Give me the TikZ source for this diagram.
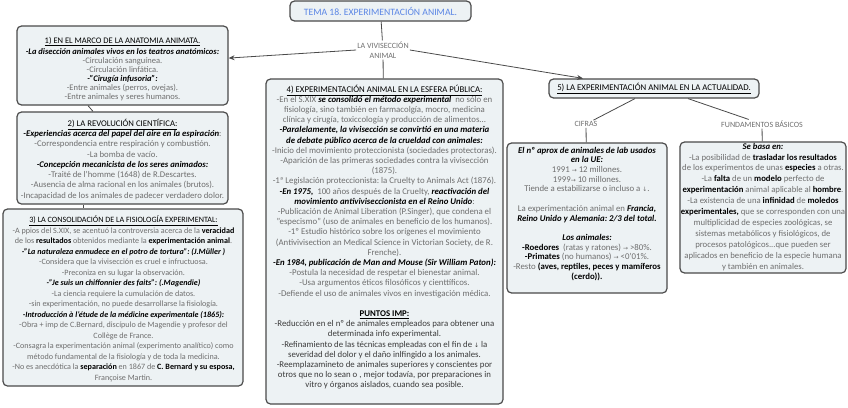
\documentclass[tikz,border=0pt]{standalone}
\usepackage{fontspec}
\setmainfont{Carlito}
\newfontfamily\symfont{DejaVu Sans}
\usetikzlibrary{arrows.meta,calc}
\frenchspacing
\definecolor{boxfill}{HTML}{EDF2F4}
\definecolor{boxline}{HTML}{4A4A4A}
\definecolor{txtgray}{HTML}{6E6E6E}
\definecolor{txtdark}{HTML}{3A3A3A}
\definecolor{titleblue}{HTML}{5B86E5}
\newcommand{\myul}[1]{\underline{#1}}
\newcommand{\myB}[1]{{\color{black}\bfseries #1}}
\newcommand{\myBI}[1]{{\color{black}\bfseries\itshape #1}}
\newcommand{\myHd}[1]{{\color{black}\myul{#1}}}
\newcommand{\myra}{{\symfont\fontsize{6}{6}\selectfont →}}
\newcommand{\myda}{{\symfont\fontsize{6}{6}\selectfont ↓}}
\newcommand{\fst}{\rule{0pt}{1em}}
\newcommand{\fs}[2]{\fontsize{#1}{#2}\selectfont}
\tikzset{
  box/.style={draw=boxline, fill=boxfill, rounded corners=4.5pt, line width=1.2pt,
    inner sep=0pt},
  txt/.style={anchor=north, inner sep=0pt, align=center, text=txtgray},
  lbl/.style={text=txtgray, align=center, inner sep=1pt, font=\fs{8}{10}},
  conn/.style={draw=boxline, line width=0.8pt},
  arr/.style={conn, -{Stealth[length=6pt,width=5pt]}}
}
\begin{document}
\begin{tikzpicture}[x=1pt,y=-1pt]
\useasboundingbox (0,0) rectangle (848,407);
% title
\node[box, text=titleblue, font=\fs{9.7}{11}, minimum width=181pt, minimum height=20pt] (title) at (380.5,11) {TEMA 18. EXPERIMENTACIÓN ANIMAL.};
\node[lbl] (viv) at (383,50) {LA VIVISECCIÓN\\ANIMAL};
% box frames
\node[box, minimum width=211pt, minimum height=79pt] (b1) at (122.5,65.5) {};
\node[box, minimum width=211pt, minimum height=92pt] (b2) at (122.5,158) {};
\node[box, minimum width=240pt, minimum height=177pt] (b3) at (123,297.5) {};
\node[box, minimum width=237pt, minimum height=325pt] (b4) at (384.5,241.5) {};
\node[box, minimum width=210pt, minimum height=19pt, font=\fs{8.8}{10}] (b5) at (654,88.5) {\myHd{5) LA EXPERIMENTACIÓN ANIMAL EN LA ACTUALIDAD.}};
\node[box, minimum width=160pt, minimum height=150pt] (b6) at (587,218) {};
\node[box, minimum width=166pt, minimum height=131pt] (b7) at (763,207.5) {};
\node[lbl] (cif) at (586,124) {CIFRAS};
\node[lbl] (fun) at (762,124) {FUNDAMENTOS BÁSICOS};
% box 1 text
\node[txt, font=\fs{8.5}{8.9}] (b1t) at (122.5,34.3) {%
\fst\myHd{1) EN EL MARCO DE LA ANATOMIA ANIMATA.}\\[1.6pt]
\myBI{-La disección animales vivos en los teatros anatómicos:}\\
-Circulación sanguínea.\\
-Circulación linfática.\\
\myBI{-''Cirugía infusoria'':}\\
-Entre animales (perros, ovejas).\\
-Entre animales y seres humanos.};
% box 2 text
\node[txt, font=\fs{8.7}{10.3}] (b2t) at (122.5,117.2) {%
\fst\myHd{2) LA REVOLUCIÓN CIENTÍFICA:}\\
\myBI{-Experiencias acerca del papel del aire en la espiración}:\\
-Correspondencia entre respiración y combustión.\\
-La bomba de vacío.\\
\myBI{-Concepción mecanicista de los seres animados:}\\
-Traité de l'homme (1648) de R.Descartes.\\
-Ausencia de alma racional en los animales (brutos).\\
-Incapacidad de los animales de padecer verdadero dolor.};
% box 3 text
\node[txt, font=\fs{8.1}{10.5}] (b3t) at (123.5,214.6) {%
\fst\myHd{3) LA CONSOLIDACIÓN DE LA FISIOLOGÍA EXPERIMENTAL:}\\
-A ppios del S.XIX, se acentuó la controversia acerca de la \myB{veracidad}\\
de los \myB{resultados} obtenidos mediante la \myB{experimentación animal}.\\
\myBI{-''La naturaleza enmudece en el potro de tortura'': (J.Müller )}\\
-Considera que la vivisección es cruel e infructuosa.\\
-Preconiza en su lugar la observación.\\
\myBI{-''Je suis un chiffonnier des faits'': (.Magendie)}\\
-La ciencia requiere la cumulación de datos.\\
-sin experimentación, no puede desarrollarse la fisiología.\\
\myBI{-Introducción à l'étude de la médicine experimentale (1865):}\\
-Obra + imp de C.Bernard, discípulo de Magendie y profesor del\\
Collège de France.\\
-Consagra la experimentación animal (experimento analítico) como\\
método fundamental de la fisiología y de toda la medicina.\\
-No es anecdótica la \myB{separación} en 1867 de \myB{C. Bernard y su esposa,}\\
Françoise Martin.};
% box 4 text
\node[txt, font=\fs{8.8}{10.2}] (b4t) at (384.5,83.1) {%
\fst\myHd{4) EXPERIMENTACIÓN ANIMAL EN LA ESFERA PÚBLICA:}\\
-En el S.XIX \myBI{se consolidó el método experimental}\ \ no sólo en\\
fisiología, sino también en farmacolgía, mocro, medicina\\
clínica y cirugía, toxiccología y producción de alimentos...\\
\myBI{-Paralelamente, la vivisección se convirtió en una materia}\\
\myBI{de debate público acerca de la crueldad con animales:}\\
-Inicio del movimiento proteccionista (sociedades protectoras).\\
-Aparición de las primeras sociedades contra la vivisección\\
(1875).\\
-1ª Legislación proteccionista: la Cruelty to Animals Act (1876).\\
\myBI{-En 1975,}\ \ 100 años después de la Cruelty, \myBI{reactivación del}\\
\myBI{movimiento antiviviseccionista en el Reino Unido}:\\
-Publicación de Animal Liberation (P.Singer), que condena el\\
''especismo'' (uso de animales en beneficio de los humanos).\\
-1º Estudio histórico sobre los orígenes el movimiento\\
(Antivivisection an Medical Science in Victorian Society, de R.\\
Frenche).\\
\myBI{-En 1984, publicación de Man and Mouse (Sir William Paton):}\\
-Postula la necesidad de respetar el bienestar animal.\\
-Usa argumentos éticos filosóficos y cienttíficos.\\
-Defiende el uso de animales vivos en investigación médica.\\[10.2pt]
{\color{black}\bfseries\myul{PUNTOS IMP:}}\\
{\color{txtdark}-Reducción en el nº de animales empleados para obtener una}\\
{\color{txtdark}determinada info experimental.}\\
{\color{txtdark}-Refinamiento de las técnicas empleadas con el fin de \myda{} la}\\
{\color{txtdark}severidad del dolor y el daño inlfingido a los animales.}\\
{\color{txtdark}-Reemplazamineto de animales superiores y conscientes por}\\
{\color{txtdark}otros que no lo sean o , mejor todavía, por preparaciones in}\\
{\color{txtdark}vitro y órganos aislados, cuando sea posible.}};
% cifras text
\node[txt, font=\fs{8.8}{9.7}] (b6t) at (587,144.1) {%
\fst\myBI{El nº aprox de animales de lab usados}\\
\myBI{en la UE:}\\
1991 \myra{} 12 millones.\\
1999\myra{} 10 millones.\\
Tiende a estabilizarse o incluso a \myda.\\[9.7pt]
La experimentación animal en \myBI{Francia,}\\
\myBI{Reino Unido y Alemania: 2/3 del total.}\\[9.7pt]
\myBI{Los animales:}\\
\myB{-Roedores}\ \ (ratas y ratones) \myra{} >80\%.\\
\myB{-Primates} (no humanos) \myra{} <0'01\%.\\
-Resto \myB{(aves, reptiles, peces y mamíferos}\\
\myB{(cerdo)).}};
% fundamentos text
\node[txt, font=\fs{8.7}{10.9}] (b7t) at (763,140.2) {%
\fst\myBI{Se basa en:}\\
-La posibilidad de \myB{trasladar los resultados}\\
de los experimentos de unas \myB{especies} a otras.\\
-La \myB{falta} de un \myB{modelo} perfecto de\\
\myB{experimentación} animal aplicable al \myB{hombre}.\\
-La existencia de una \myB{infinidad} de \myB{moledos}\\
\myB{experimentales,} que se corresponden con una\\
multiplicidad de especies zoológicas, se\\
sistemas metabólicos y fisiológicos, de\\
procesos patológicos...que pueden ser\\
aplicados en beneficio de la especie humana\\
y también en animales.};
% connectors
\draw[conn] (title) -- (viv);
\draw[conn] (viv) -- (b4);
\draw[arr] (viv.west) -- (b1.4);
\draw[arr] (viv.east) -- ($(b5.north)+(-71,0)$);
\draw[conn] ($(b5.south)+(-19,0)$) -- (cif);
\draw[conn] ($(b5.south)+(34,0)$) -- (fun);
\draw[conn] (cif) -- (b6);
\draw[conn] (fun) -- (b7);
\draw[conn] ($(b1.south)+(-34.5,0)$) -- ($(b2.north)+(-29.5,0)$);
\draw[conn] ($(b2.south)+(-39.5,0)$) -- ($(b3.north)+(-40,0)$);
\end{tikzpicture}
\end{document}
